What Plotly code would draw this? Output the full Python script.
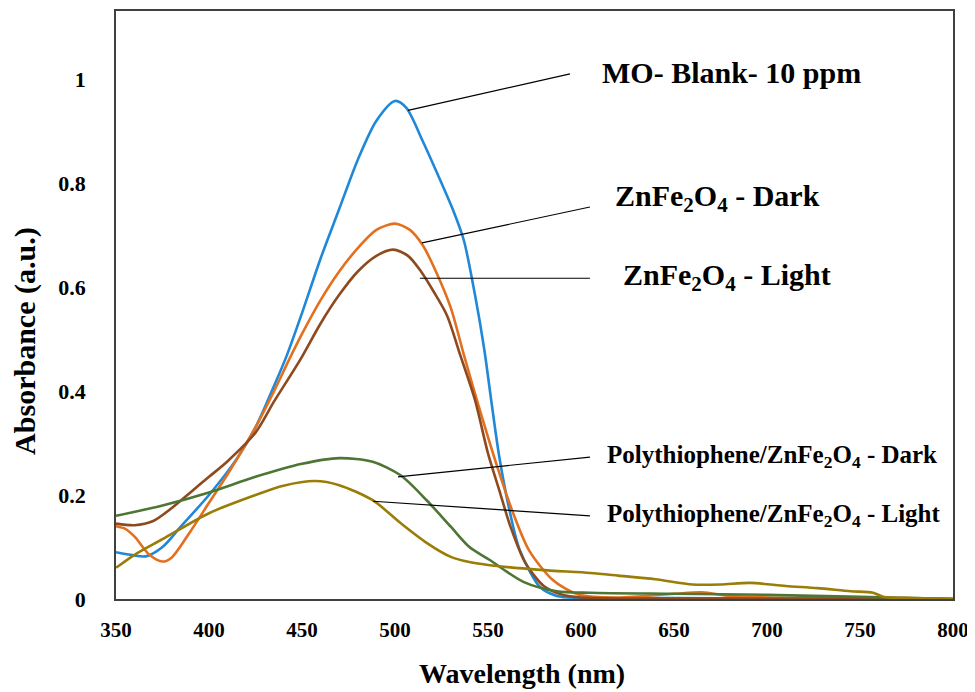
import plotly.graph_objects as go

# ---------------- data ----------------
blank_x = [350, 358, 366, 375, 385, 400, 415, 425, 435, 442, 450, 460, 470, 480, 490, 500, 506, 515, 525, 531, 537, 543, 548, 552, 556, 561, 567, 578, 587, 600, 650, 700, 750, 800]
blank_y = [0.09, 0.085, 0.082, 0.10, 0.14, 0.20, 0.27, 0.33, 0.41, 0.47, 0.55, 0.655, 0.75, 0.845, 0.92, 0.958, 0.945, 0.88, 0.80, 0.75, 0.69, 0.585, 0.48, 0.375, 0.275, 0.18, 0.095, 0.023, 0.006, 0.002, 0.002, 0.001, 0.001, 0.0]

dark_x = [350, 355, 360, 368, 375, 380, 390, 400, 410, 425, 435, 443, 450, 460, 470, 480, 490, 500, 508, 515, 522, 530, 537, 544, 555, 563, 572, 585, 599, 620, 650, 665, 680, 700, 750, 800]
dark_y = [0.14, 0.135, 0.12, 0.085, 0.072, 0.08, 0.13, 0.185, 0.24, 0.33, 0.40, 0.46, 0.51, 0.575, 0.63, 0.675, 0.71, 0.722, 0.71, 0.68, 0.63, 0.56, 0.47, 0.383, 0.254, 0.17, 0.094, 0.036, 0.008, 0.003, 0.01, 0.013, 0.006, 0.003, 0.001, 0.0]

light_x = [350, 360, 370, 380, 390, 400, 410, 425, 435, 449, 460, 470, 480, 490, 499, 507, 514, 521, 528, 535, 543, 550, 556, 562, 570, 580, 590, 600, 700, 800]
light_y = [0.145, 0.142, 0.15, 0.175, 0.205, 0.235, 0.265, 0.32, 0.38, 0.46, 0.53, 0.585, 0.63, 0.66, 0.672, 0.66, 0.63, 0.59, 0.545, 0.47, 0.383, 0.28, 0.21, 0.14, 0.07, 0.025, 0.008, 0.003, 0.001, 0.0]

ptd_x = [350, 375, 400, 425, 450, 470, 488, 503, 517, 530, 540, 551, 569, 587, 605, 650, 700, 750, 800]
ptd_y = [0.16, 0.18, 0.205, 0.235, 0.26, 0.271, 0.264, 0.238, 0.19, 0.139, 0.10, 0.075, 0.033, 0.015, 0.012, 0.01, 0.008, 0.004, 0.0]

ptl_x = [350, 360, 375, 400, 425, 440, 457, 470, 488, 503, 517, 530, 540, 551, 578, 605, 620, 640, 660, 675, 691, 710, 727, 745, 757, 763, 780, 800]
ptl_y = [0.06, 0.085, 0.115, 0.165, 0.20, 0.218, 0.227, 0.219, 0.19, 0.146, 0.108, 0.081, 0.071, 0.065, 0.056, 0.05, 0.045, 0.038, 0.028, 0.028, 0.031, 0.025, 0.021, 0.015, 0.012, 0.004, 0.002, 0.0]

series_names = ["MO- Blank- 10 ppm", "ZnFe<sub>2</sub>O<sub>4</sub> - Dark", "ZnFe<sub>2</sub>O<sub>4</sub> - Light",
                "Polythiophene/ZnFe<sub>2</sub>O<sub>4</sub> - Dark", "Polythiophene/ZnFe<sub>2</sub>O<sub>4</sub> - Light"]
series_colors = ["#1F88D8", "#E2701F", "#8E4A1E", "#4D7533", "#9A7D07"]

x_ticks = [350, 400, 450, 500, 550, 600, 650, 700, 750, 800]
y_ticks = [0, 0.2, 0.4, 0.6, 0.8, 1]
y_tick_labels = ["0", "0.2", "0.4", "0.6", "0.8", "1"]
x_title = "Wavelength (nm)"
y_title = "Absorbance (a.u.)"

# label placement: (leader start x, y), (leader end x, y), (text x, y), font size
label_layout = [
    ((507.0, 0.940), (594.1, 1.010), (610.0, 1.013), 30),
    ((514.5, 0.685), (604.8, 0.754), (617.0, 0.771), 30),
    ((513.4, 0.617), (604.8, 0.617), (621.5, 0.619), 30),
    ((501.6, 0.235), (604.8, 0.273), (613.0, 0.275), 25),
    ((488.2, 0.188), (604.8, 0.160), (613.0, 0.1615), 25),
]

FONT = "Liberation Serif, Times New Roman, serif"

fig = go.Figure()
for xs, ys, name, col in zip([blank_x, dark_x, light_x, ptd_x, ptl_x],
                             [blank_y, dark_y, light_y, ptd_y, ptl_y],
                             series_names, series_colors):
    fig.add_trace(go.Scatter(x=xs, y=ys, mode="lines", name=name,
                             line=dict(color=col, width=2.6, shape="spline", smoothing=0.8)))

for (s, e, t, fs), name in zip(label_layout, series_names):
    fig.add_shape(type="line", x0=s[0], y0=s[1], x1=e[0], y1=e[1],
                  xref="x", yref="y", line=dict(color="black", width=1.2))
    fig.add_annotation(x=t[0], y=t[1], xref="x", yref="y", text="<b>" + name + "</b>",
                       showarrow=False, xanchor="left", yanchor="middle",
                       font=dict(family=FONT, size=fs, color="black"))

# axis titles as annotations (placed off-centre as in the reference)
fig.add_annotation(x=0.485, y=-0.126, xref="paper", yref="paper", text="<b>" + x_title + "</b>",
                   showarrow=False, xanchor="center", yanchor="middle",
                   font=dict(family=FONT, size=28, color="black"))
fig.add_annotation(x=-0.1087, y=0.439, xref="paper", yref="paper", text="<b>" + y_title + "</b>",
                   showarrow=False, xanchor="center", yanchor="middle", textangle=-90,
                   font=dict(family=FONT, size=30, color="black"))

# page body has an 8px margin: compensate so the plot frame lands where the reference has it
fig.update_layout(
    width=967, height=684,
    margin=dict(l=108, r=22, t=3, b=93),
    paper_bgcolor="white", plot_bgcolor="white",
    showlegend=False,
    font=dict(family=FONT, color="black"),
)
fig.update_xaxes(range=[350, 800], tickvals=x_ticks, ticks="", showgrid=False, zeroline=False,
                 showline=True, mirror=True, linecolor="#404040", linewidth=1.5, automargin=False,
                 tickfont=dict(family=FONT, size=21, color="black", weight="bold"),
                 ticklabelstandoff=11)
fig.update_yaxes(range=[0, 1.131], tickvals=y_ticks, ticktext=y_tick_labels, ticks="", showgrid=False, zeroline=False,
                 showline=True, mirror=True, linecolor="#404040", linewidth=1.5, automargin=False,
                 tickfont=dict(family=FONT, size=22, color="black", weight="bold"),
                 ticklabelstandoff=24)

fig.write_html("out.html")
